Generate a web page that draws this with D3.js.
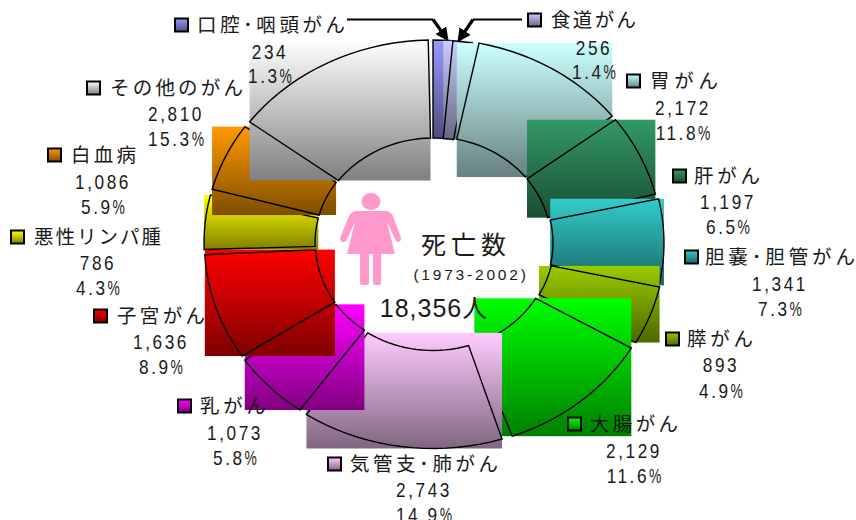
<!DOCTYPE html>
<html><head><meta charset="utf-8">
<script src="https://cdn.jsdelivr.net/npm/d3@7"></script>
<style>
html,body{margin:0;padding:0;background:#fff}
svg{display:block}
text{font-family:"Liberation Sans","Noto Sans CJK JP",sans-serif;fill:#1a1a1a}
.name{font-size:19.5px}
.num{font-size:21px;letter-spacing:3.1px}
</style></head><body>
<svg id="c" width="856" height="520"></svg>
<script>
const cancerNames=["口腔･咽頭がん","食道がん","胃がん","肝がん","胆嚢･胆管がん","膵がん","大腸がん","気管支･肺がん","乳がん","子宮がん","悪性リンパ腫","白血病","その他のがん"];
const deaths=[234,256,2172,1197,1341,893,2129,2743,1073,1636,786,1086,2810];
const shares=[1.3,1.4,11.8,6.5,7.3,4.9,11.6,14.9,5.8,8.9,4.3,5.9,15.3];
const sliceColors=["#9999ff","#ccccff","#ccffff","#339966","#33cccc","#99cc00","#00ff00","#ffccff","#ff00ff","#ff0000","#ffff00","#ff9900","#ffffff"];
// per-slice drawing irregularities of the original (degrees at start/end, px shift)
const trimStart=[0,0.4,2,0.6,1.8,0.5,1,1.2,0.5,0.6,0,1.7,1.9];
const trimEnd=[0.4,0.4,-0.7,0.5,0,-0.3,-1.25,-1.5,-0.8,-1.2,0,-0.1,-1.2];
const shiftX=[0,0,0,0,2,3,1,0,0,0.5,0,0,0];
const shiftY=[1,1,0,0,0,0,1.5,1.5,1,1,0,0,1];
// label layout: swatch left, swatch centre y, name left, name width, number centre x, number y, percent y
const swatchX=[174,527,626,672,684,665,567,327,177,93,10,47,86];
const nameY=[25,20,81,176,257,339,424,464,406,316,237,155,88];
const nameX=[197,551,650,694,705,687,590,350,200,117,34,71,110];
const nameW=[148,85,68,66,150,66,88,148,66,88,127,65,133];
const numX=[271,595,684,729,781,722,635,425,236,162,99,104,177];
const numY=[51,47,107,201,283,364,450,489,432,341,262,181,113];
const pctY=[75,71,132,226,308,390,475,514,457,366,287,206,138];

const svg=d3.select("#c");
const defs=svg.append("defs");
const cx=433,cy=243,rx=229,ry=204,irx=118,iry=106;
const xO=d3.scaleLinear().domain([-1,1]).range([cx-rx,cx+rx]);
const yO=d3.scaleLinear().domain([-1,1]).range([cy+ry,cy-ry]);
const xI=d3.scaleLinear().domain([-1,1]).range([cx-irx,cx+irx]);
const yI=d3.scaleLinear().domain([-1,1]).range([cy+iry,cy-iry]);
const rad=Math.PI/180;
const pie=d3.pie().sort(null).value(d=>d);
const arcs=pie(deaths);
const line=d3.line();

sliceColors.forEach((c,i)=>{
  const g=defs.append("linearGradient").attr("id","g"+i).attr("x1",0).attr("y1",0).attr("x2",0).attr("y2",1);
  g.append("stop").attr("offset",0).attr("stop-color",c);
  g.append("stop").attr("offset",1).attr("stop-color",d3.interpolateRgb(c,"#000")(0.5));
});

const layer=svg.append("g");
arcs.forEach((a,i)=>{
  const a0=a.startAngle+trimStart[i]*rad, a1=a.endAngle+trimEnd[i]*rad;
  const n=Math.max(2,Math.ceil((a1-a0)/(3*rad)));
  const ts=d3.range(n+1).map(k=>a0+(a1-a0)*k/n);
  const outer=ts.map(t=>[xO(Math.sin(t))+shiftX[i],yO(Math.cos(t))+shiftY[i]]);
  const inner=ts.slice().reverse().map(t=>[xI(Math.sin(t))+shiftX[i],yI(Math.cos(t))+shiftY[i]]);
  const pts=outer.concat(inner);
  const [x0,x1]=d3.extent(pts,p=>p[0]), [y0,y1]=d3.extent(pts,p=>p[1]);
  layer.append("rect").attr("x",x0).attr("y",y0).attr("width",x1-x0).attr("height",y1-y0).attr("fill",`url(#g${i})`);
  layer.append("path").attr("d",line(pts)+"Z").attr("fill","none").attr("stroke","#000").attr("stroke-width",1.4);
});

// leader arrows
defs.append("marker").attr("id","ah").attr("viewBox","0 0 10 10").attr("refX",8).attr("refY",5)
  .attr("markerWidth",4.2).attr("markerHeight",4.2).attr("orient","auto")
  .append("path").attr("d","M0,0L10,5L0,10Z").attr("fill","#000");
const arrows=[[[347,19.5],[433,19.5],[447,39]],[[522,19.5],[473,19.5],[459,40]]];
arrows.forEach(p=>{
  svg.append("path").attr("d",line(p.slice(0,2))+"").attr("fill","none").attr("stroke","#000").attr("stroke-width",1.8);
  svg.append("path").attr("d",line(p.slice(1))).attr("fill","none").attr("stroke","#000").attr("stroke-width",3.2).attr("marker-end","url(#ah)");
});

// narrow digits: the reference face is condensed, so the text is squeezed horizontally
const squeeze=0.82, pctSqueeze=0.66;
function narrowCentered(str,x,y,withPct){
  const g=svg.append("g");
  const body=g.append("text").attr("class","num").text(str);
  const w=body.node().getComputedTextLength()*squeeze;
  let pw=0,pct=null;
  if(withPct){
    pct=g.append("text").attr("class","num").style("letter-spacing","0").text("%");
    pw=pct.node().getComputedTextLength()*pctSqueeze;
  }
  const left=x-(w+pw)/2;
  body.attr("transform",`translate(${left},${y}) scale(${squeeze},1)`);
  if(pct) pct.attr("transform",`translate(${left+w},${y}) scale(${pctSqueeze},1)`);
}

// labels
cancerNames.forEach((nm,i)=>{
  svg.append("rect").attr("x",swatchX[i]+1).attr("y",nameY[i]-6.5).attr("width",13).attr("height",13)
    .attr("fill",`url(#g${i})`).attr("stroke","#000").attr("stroke-width",2);
  svg.append("text").attr("class","name").attr("x",nameX[i]).attr("y",nameY[i]+7)
    .attr("textLength",nameW[i]).attr("lengthAdjust","spacing").text(nm);
  narrowCentered(d3.format(",")(deaths[i]),numX[i]-1,numY[i]+7.5,false);
  narrowCentered(d3.format(".1f")(shares[i]),numX[i]-1,pctY[i]+7.5,true);
});

// centre
svg.append("text").attr("x",466).attr("y",254).attr("text-anchor","middle").style("font-size","25px").style("letter-spacing","5px").text("死亡数");
svg.append("text").attr("x",471).attr("y",280).attr("text-anchor","middle").style("font-size","15.5px").style("letter-spacing","2.8px").text("(1973-2002)");
const total=d3.sum(deaths);
svg.append("text").attr("x",434).attr("y",317).attr("text-anchor","middle").style("font-size","25px").style("letter-spacing","1px").text(d3.format(",")(total)+"人");

// woman pictogram
const fig=svg.append("g").attr("fill","#ff99cc");
fig.append("ellipse").attr("cx",371).attr("cy",201.5).attr("rx",9.5).attr("ry",8.5);
fig.append("path").attr("d","M355,211H387Q391,212 393,216L401,238Q401,242 398,242Q396,242 395,239L387,222L395,254H347L355,222L347,239Q346,242 343,242Q340,241 340,238L349,216Q351,212 355,211Z");
fig.append("path").attr("d","M360,254H369V283Q369,285 367,285H362Q360,285 360,283Z");
fig.append("path").attr("d","M373,254H381V283Q381,285 379,285H375Q373,285 373,283Z");
</script>
</body></html>
